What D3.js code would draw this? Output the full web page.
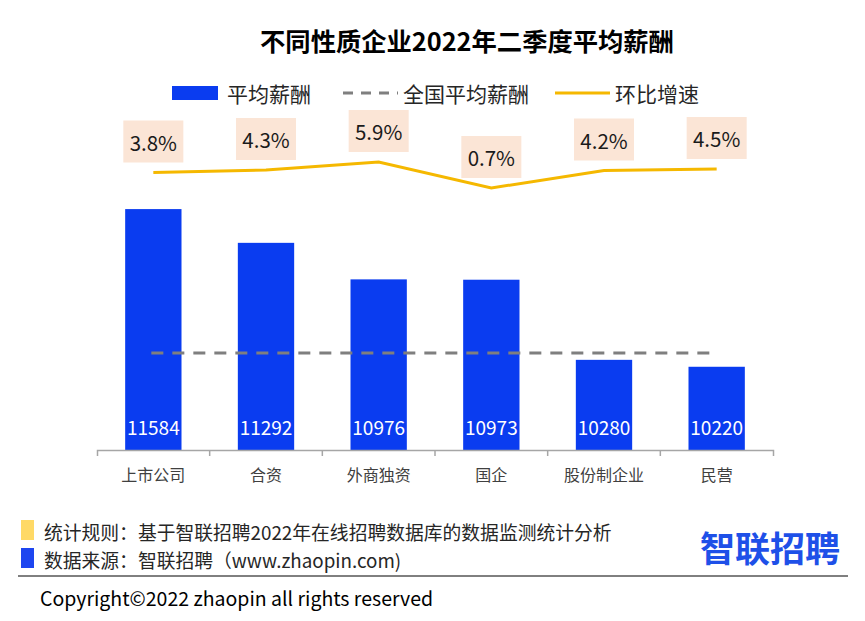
<!DOCTYPE html>
<html>
<head>
<meta charset="utf-8">
<script src="https://cdn.jsdelivr.net/npm/d3@7"></script>
<style>
  body { margin: 0; background: #fff; }
  text { font-family: "Noto Sans CJK SC", "Noto Sans", sans-serif; }
</style>
</head>
<body>
<div id="chart"></div>
<script>
// Chart data
const categories = ["上市公司", "合资", "外商独资", "国企", "股份制企业", "民营"];
const salary = [11584, 11292, 10976, 10973, 10280, 10220];
const growth = [3.8, 4.3, 5.9, 0.7, 4.2, 4.5];
const nationalAvg = 10340;
const legendLabels = ["平均薪酬", "全国平均薪酬", "环比增速"];
const titleText = "不同性质企业2022年二季度平均薪酬";
const noteLines = ["统计规则：基于智联招聘2022年在线招聘数据库的数据监测统计分析", "数据来源：智联招聘（www.zhaopin.com)"];

const width = 865, height = 621;
const barColor = "#0a3cf0", avgColor = "#7f7f7f", lineColor = "#f5b800";

const svg = d3
  .select("#chart")
  .append("svg")
  .attr("width", width)
  .attr("height", height);

// Scales
const x = d3.scaleBand().domain(categories).range([97, 773]).paddingInner(0.5).paddingOuter(0.25);
const y = d3.scaleLinear().domain([9500, 12000]).range([450, 161]);
const y2 = d3.scaleLinear().domain([0, 6]).range([191.5, 161.5]); // growth, secondary axis (hidden)
const cx = (c) => x(c) + x.bandwidth() / 2;

// Title
svg.append("text")
  .attr("x", 467).attr("y", 40)
  .attr("text-anchor", "middle").attr("dominant-baseline", "central")
  .style("font-size", "25.3px").style("font-weight", "bold").attr("fill", "#000")
  .text(titleText);

// Legend
const lg = svg.append("g").attr("transform", "translate(0,93)");
lg.append("rect").attr("x", 172).attr("y", -7).attr("width", 46).attr("height", 14).attr("fill", barColor);
lg.append("line").attr("x1", 343).attr("x2", 398).attr("stroke", avgColor).attr("stroke-width", 3).attr("stroke-dasharray", "10,8");
lg.append("line").attr("x1", 555).attr("x2", 610).attr("stroke", lineColor).attr("stroke-width", 3);
lg.selectAll("text.lg")
  .data(legendLabels)
  .join("text")
  .attr("class", "lg")
  .attr("x", (d, i) => [227, 403, 615][i])
  .attr("dominant-baseline", "central")
  .style("font-size", "21px").attr("fill", "#262626")
  .text((d) => d);

// Bars
svg.append("g")
  .selectAll("rect")
  .data(salary)
  .join("rect")
  .attr("x", (d, i) => x(categories[i]))
  .attr("y", (d) => y(d))
  .attr("width", x.bandwidth())
  .attr("height", (d) => y(9500) - y(d))
  .attr("fill", barColor);

// Bar value labels
svg.append("g")
  .selectAll("text")
  .data(salary)
  .join("text")
  .attr("x", (d, i) => cx(categories[i]))
  .attr("y", 426)
  .attr("text-anchor", "middle").attr("dominant-baseline", "central")
  .style("font-size", "19px").attr("fill", "#fff")
  .text((d) => d);

// X axis
const xAxis = svg.append("g")
  .attr("transform", "translate(0,450)")
  .call(d3.axisBottom(x).tickSizeInner(0).tickSizeOuter(6).tickPadding(20));
xAxis.select(".domain").attr("stroke", "#a6a6a6").attr("stroke-width", 1.5);
xAxis.selectAll(".tick text").style("font-size", "16px").attr("fill", "#404040");
xAxis.selectAll("line.bound")
  .data(d3.range(1, categories.length))
  .join("line")
  .attr("class", "bound")
  .attr("x1", (i) => x.range()[0] + i * x.step())
  .attr("x2", (i) => x.range()[0] + i * x.step())
  .attr("y1", 0).attr("y2", 6)
  .attr("stroke", "#a6a6a6").attr("stroke-width", 1.5);

// National average (dashed)
svg.append("line")
  .attr("x1", cx(categories[0]) - 2)
  .attr("x2", cx(categories[categories.length - 1]) - 4)
  .attr("y1", y(nationalAvg)).attr("y2", y(nationalAvg))
  .attr("stroke", avgColor).attr("stroke-width", 3).attr("stroke-dasharray", "12,9");

// Growth line
const line = d3.line()
  .x((d, i) => cx(categories[i]))
  .y((d) => y2(d));
svg.append("path")
  .datum(growth)
  .attr("fill", "none")
  .attr("stroke", lineColor)
  .attr("stroke-width", 3)
  .attr("d", line);

// Growth labels
const gl = svg.append("g")
  .selectAll("g")
  .data(growth)
  .join("g")
  .attr("transform", (d, i) => `translate(${cx(categories[i])},${y2(d) - 31})`);
gl.append("rect").attr("x", -30).attr("y", -21).attr("width", 60).attr("height", 42).attr("fill", "#fbe5d6");
gl.append("text")
  .attr("text-anchor", "middle").attr("dominant-baseline", "central")
  .style("font-size", "20.5px").attr("fill", "#1a1a1a")
  .text((d) => d.toFixed(1) + "%");

// Footer notes
const notes = svg.append("g");
notes.selectAll("rect")
  .data(noteLines)
  .join("rect")
  .attr("x", 21).attr("y", (d, i) => 520 + i * 28)
  .attr("width", 13).attr("height", 20)
  .attr("fill", (d, i) => (i === 0 ? "#ffd966" : "#1e46f0"));
notes.selectAll("text")
  .data(noteLines)
  .join("text")
  .attr("x", 44).attr("y", (d, i) => 531 + i * 28)
  .attr("dominant-baseline", "central")
  .style("font-size", "18.8px").attr("fill", "#262626")
  .text((d) => d);

// Logo
svg.append("text")
  .attr("x", 700).attr("y", 546)
  .attr("dominant-baseline", "central")
  .style("font-size", "35px").style("font-weight", "bold").attr("fill", "#1e50e8")
  .text("智联招聘");

// Separator + copyright
svg.append("line").attr("x1", 18).attr("x2", 848).attr("y1", 576).attr("y2", 576).attr("stroke", "#000").attr("stroke-width", 1);
svg.append("text")
  .attr("x", 40).attr("y", 597)
  .attr("dominant-baseline", "central")
  .style("font-size", "19.5px").attr("fill", "#000")
  .text("Copyright©2022 zhaopin all rights reserved");
</script>
</body>
</html>
